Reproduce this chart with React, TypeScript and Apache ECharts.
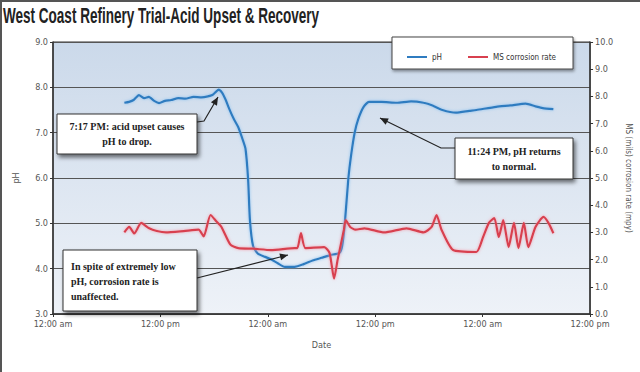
import React, { useEffect, useRef } from "react";
import * as echarts from "echarts";

// hours since first 12:00 am, pH
const phSeries: [number, number][] = [
  [7.97, 7.66], [8.5, 7.68], [9.0, 7.72], [9.6, 7.83], [10.2, 7.76], [10.7, 7.79], [11.3, 7.7],
  [11.85, 7.65], [12.5, 7.7], [13.2, 7.72], [14.0, 7.76], [14.8, 7.75], [15.7, 7.79], [16.6, 7.78],
  [17.3, 7.8], [17.8, 7.83], [18.2, 7.9], [18.5, 7.95], [18.9, 7.88], [19.3, 7.72], [19.7, 7.52],
  [20.2, 7.3], [20.7, 7.12], [21.1, 6.9], [21.5, 6.65], [21.8, 5.96], [22.0, 5.07], [22.35, 4.5],
  [22.9, 4.33], [23.7, 4.26], [24.4, 4.2], [25.1, 4.12], [25.9, 4.04], [27.0, 4.04], [28.0, 4.1],
  [29.0, 4.18], [30.0, 4.24], [31.0, 4.3], [32.0, 4.35], [32.3, 4.5], [32.6, 5.0], [33.0, 6.0],
  [33.3, 6.5], [33.7, 7.0], [34.1, 7.3], [34.7, 7.57], [35.3, 7.68], [36.7, 7.68], [38.4, 7.66],
  [40.0, 7.69], [41.4, 7.66], [42.4, 7.6], [43.5, 7.5], [45.0, 7.44], [46.5, 7.48], [47.3, 7.5],
  [49.5, 7.57], [51.1, 7.6], [52.8, 7.64], [53.9, 7.58], [54.7, 7.54], [55.9, 7.52],
];

// hours since first 12:00 am, corrosion rate (mpy)
const corrosionSeries: [number, number][] = [
  [7.97, 3.0], [8.52, 3.2], [9.08, 2.96], [9.85, 3.35], [10.74, 3.15], [11.6, 3.05], [12.62, 3.0],
  [14.6, 3.05], [16.27, 3.1], [16.83, 2.85], [17.6, 3.64], [18.27, 3.4], [18.82, 3.2], [19.82, 2.55],
  [20.7, 2.42], [22.36, 2.4], [24.36, 2.35], [27.0, 2.42], [27.3, 2.42], [27.7, 2.97], [28.2, 2.42],
  [30.3, 2.46], [30.9, 2.24], [31.4, 1.3], [31.8, 2.0], [32.5, 3.1], [32.7, 3.45], [33.2, 3.2],
  [33.8, 3.1], [34.8, 3.15], [37.0, 3.0], [39.5, 3.15], [41.4, 3.0], [42.3, 3.2], [42.85, 3.64],
  [43.4, 3.1], [44.7, 2.35], [47.3, 2.28], [48.05, 2.83], [48.7, 3.35], [49.3, 3.53], [49.8, 2.83],
  [50.3, 3.45], [50.9, 2.46], [51.5, 3.35], [52.0, 2.42], [52.6, 3.35], [53.1, 2.46], [53.9, 3.2],
  [54.8, 3.57], [55.35, 3.35], [55.9, 2.97],
];

const xTickLabels = ["12:00 am", "12:00 pm"];
const seriesNames = ["pH", "MS corrosion rate"];
const titleText = "West Coast Refinery Trial-Acid Upset & Recovery";
const note1 = "7:17 PM: acid upset causes\npH to drop.";
const note2 = "In spite of extremely low\npH, corrosion rate is\nunaffected.";
const note3 = "11:24 PM, pH returns\nto normal.";

const NARROW = "'Liberation Sans Narrow', 'DejaVu Sans Condensed', 'Open Sans', sans-serif";
const SERIF = "'Liberation Serif', 'DejaVu Serif', serif";

function arrow(points: number[][]) {
  const n = points.length;
  const [x1, y1] = points[n - 2];
  const [x2, y2] = points[n - 1];
  const ang = Math.atan2(y2 - y1, x2 - x1);
  const L = 8, W = 3.5;
  const bx = x2 - L * Math.cos(ang), by = y2 - L * Math.sin(ang);
  const px = -Math.sin(ang) * W, py = Math.cos(ang) * W;
  return [
    { type: "polyline", z: 100, shape: { points }, style: { stroke: "#222", lineWidth: 1.2, fill: null } },
    { type: "polygon", z: 100, shape: { points: [[x2, y2], [bx + px, by + py], [bx - px, by - py]] }, style: { fill: "#222" } },
  ];
}

function noteBox(x: number, y: number, w: number, h: number) {
  return {
    type: "rect", z: 100,
    shape: { x, y, width: w, height: h },
    style: { fill: "#fff", stroke: "#333", lineWidth: 1, shadowBlur: 4, shadowOffsetX: 2, shadowOffsetY: 3, shadowColor: "rgba(0,0,0,0.55)" },
  };
}

export default function App() {
  const ref = useRef<HTMLDivElement>(null);
  useEffect(() => {
    if (!ref.current) return;
    const chart = echarts.init(ref.current, null, { renderer: "svg" });
    const axisLabel = { color: "#555", fontSize: 9, fontFamily: NARROW };
    chart.setOption({
      animation: false,
      backgroundColor: "#fff",
      legend: {
        data: seriesNames, left: 402, top: 48, icon: "rect", itemWidth: 20, itemHeight: 2, itemGap: 26, z: 10,
        textStyle: { fontSize: 8, color: "#333", fontFamily: NARROW },
      },
      grid: {
        left: 53, right: 45, top: 42, bottom: 58, show: true,
        borderColor: "#333", borderWidth: 1,
        backgroundColor: new echarts.graphic.LinearGradient(0, 0, 0, 1, [
          { offset: 0, color: "#cbd9ea" },
          { offset: 1, color: "#eef2f8" },
        ]),
      },
      xAxis: {
        type: "value", min: 0, max: 60, interval: 12,
        name: "Date", nameLocation: "middle", nameGap: 26,
        nameTextStyle: { color: "#555", fontSize: 9, fontFamily: NARROW },
        axisLine: { lineStyle: { color: "#333", width: 1.5 } },
        axisTick: { length: 3, lineStyle: { color: "#333" } },
        axisLabel: { ...axisLabel, margin: 5, formatter: (v: number) => xTickLabels[Math.round(v / 12) % 2] },
        splitLine: { show: false },
      },
      yAxis: [
        {
          type: "value", min: 3, max: 9, interval: 1,
          name: "pH", nameLocation: "middle", nameGap: 33,
          nameTextStyle: { color: "#555", fontSize: 9, fontFamily: NARROW },
          axisLine: { show: true, lineStyle: { color: "#333", width: 1.5 } },
          axisTick: { show: true, length: 3, lineStyle: { color: "#333" } },
          axisLabel: { ...axisLabel, margin: 5, formatter: (v: number) => v.toFixed(1) },
          splitLine: { show: true, lineStyle: { color: "#555", width: 1 } },
        },
        {
          type: "value", min: 0, max: 10, interval: 1, position: "right",
          name: "MS (mils) corrosion rate (mpy)", nameLocation: "middle", nameGap: 28, nameRotate: -90,
          nameTextStyle: { color: "#555", fontSize: 8, fontFamily: NARROW },
          axisLine: { show: true, lineStyle: { color: "#333", width: 1.5 } },
          axisTick: { show: true, length: 3, lineStyle: { color: "#333" } },
          axisLabel: { ...axisLabel, margin: 5, formatter: (v: number) => v.toFixed(1) },
          splitLine: { show: false },
        },
      ],
      series: [
        {
          name: seriesNames[0], type: "line", yAxisIndex: 0, data: phSeries, showSymbol: false, smooth: 0.2,
          itemStyle: { color: "#2f7cc0" },
          lineStyle: { color: "#2f7cc0", width: 2.2, shadowBlur: 3, shadowColor: "rgba(130,190,240,0.9)" },
        },
        {
          name: seriesNames[1], type: "line", yAxisIndex: 1, data: corrosionSeries, showSymbol: false, smooth: 0.2,
          itemStyle: { color: "#d8404f" },
          lineStyle: { color: "#d8404f", width: 2.2, shadowBlur: 3, shadowColor: "rgba(245,150,165,0.9)" },
        },
      ],
      graphic: [
        {
          type: "text", z: 60, x: 3, y: 4, scaleX: 0.615,
          style: { text: titleText, font: "bold 22px 'Liberation Sans', sans-serif", fill: "#222", textVerticalAlign: "top" },
        },
        { type: "rect", z: 50, shape: { x: 0, y: 0, width: 640, height: 2 }, style: { fill: "#555" } },
        { type: "rect", z: 50, shape: { x: 0, y: 0, width: 2, height: 372 }, style: { fill: "#555" } },
        {
          type: "rect", z: 1, shape: { x: 392, y: 37, width: 181, height: 32 },
          style: { fill: "#fff", stroke: "#444", lineWidth: 1, shadowBlur: 3, shadowOffsetX: 1, shadowOffsetY: 2, shadowColor: "rgba(0,0,0,0.4)" },
        },
        noteBox(57, 114, 140, 40),
        { type: "text", z: 101, x: 127, y: 134, style: { text: note1, textAlign: "center", textVerticalAlign: "middle", font: `bold 10px ${SERIF}`, fill: "#222", lineHeight: 15 } },
        noteBox(63, 250, 134, 61),
        { type: "text", z: 101, x: 71, y: 281, style: { text: note2, textAlign: "left", textVerticalAlign: "middle", font: `bold 10px ${SERIF}`, fill: "#222", lineHeight: 15 } },
        noteBox(455, 138, 118, 41),
        { type: "text", z: 101, x: 514, y: 159, style: { text: note3, textAlign: "center", textVerticalAlign: "middle", font: `bold 10px ${SERIF}`, fill: "#222", lineHeight: 15 } },
        ...arrow([[197, 122], [204, 121], [218, 97]]),
        ...arrow([[197, 278], [288, 255]]),
        ...arrow([[455, 148], [441, 148], [380, 118]]),
      ],
    });
    return () => chart.dispose();
  }, []);
  return <div ref={ref} style={{ position: "fixed", left: 0, top: 0, width: 640, height: 372 }} />;
}
